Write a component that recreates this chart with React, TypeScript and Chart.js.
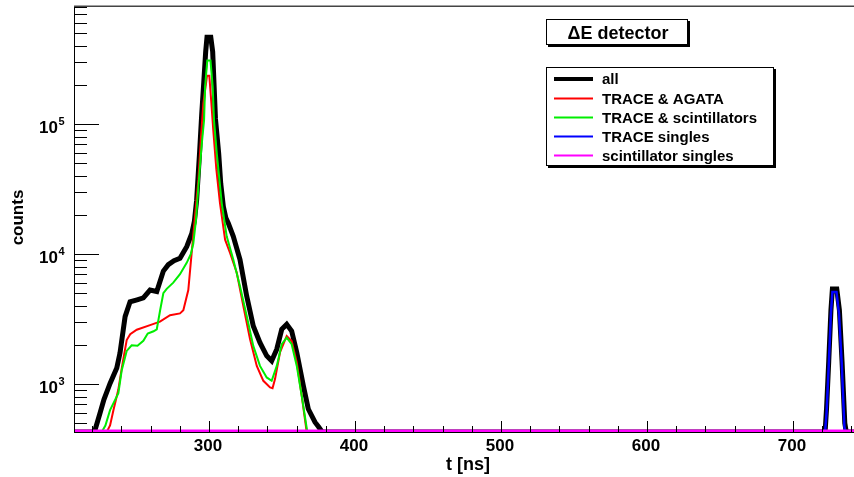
import React, { useEffect, useRef } from "react";
import { Chart, registerables } from "chart.js";

Chart.register(...registerables);

// ---- axis ranges & ticks ----
const X_MIN = 207.5;
const X_MAX = 741.8;
const Y_MIN = 428;
const Y_MAX = 810000;
const X_TICK_LABELS = [300, 400, 500, 600, 700];
const Y_TICK_EXPONENTS = [3, 4, 5];

// ---- series (t in ns, counts; 0 = empty bin) ----
const T_ALL = [207.5, 221.5, 225.3, 228, 232.2, 236.8, 239, 242.5, 245.9, 250.7, 255, 259.6, 264.2, 268.7, 272.1, 276, 280.1, 284.7, 288.2, 290, 291.5, 293.5, 295, 296.4, 297.7, 298.6, 301.2, 302.5, 304.4, 306.6, 308, 309.8, 311.5, 313.2, 316.6, 321.2, 325.8, 330.3, 334.9, 339.5, 342.9, 346.4, 349.8, 353.2, 356.6, 360.1, 364.6, 368, 372.6, 375, 377.5, 722, 723, 724.5, 726, 727, 730, 731.8, 733.6, 735.5, 736.5, 741.8];
const C_ALL = [0, 0, 596, 760, 1012, 1330, 1730, 3300, 4300, 4450, 4600, 5290, 5150, 7400, 8300, 8900, 9300, 11400, 14400, 18000, 26000, 60000, 120000, 210000, 360000, 465000, 465000, 360000, 110000, 59600, 35000, 23200, 19000, 17300, 13700, 9070, 4750, 2800, 2085, 1650, 1510, 1855, 2640, 2880, 2560, 1750, 970, 643, 509, 470, 0, 0, 650, 1500, 3700, 5400, 5400, 3700, 1500, 500, 0, 0];

const T_AGATA = [207.5, 229.9, 232.2, 234.5, 237.8, 240.8, 243.6, 246, 250.5, 259.6, 266.4, 273.3, 280.1, 282.4, 285.8, 289.2, 292.7, 294.5, 296.1, 298.6, 300.2, 301.5, 302.9, 305, 307.5, 311, 314.4, 319, 323.5, 328.1, 332.7, 337.2, 341.8, 343.5, 345.2, 348.6, 353.2, 356.6, 360.1, 363.5, 366.9, 741.8];
const C_AGATA = [0, 0, 480, 630, 900, 1450, 2180, 2420, 2620, 2840, 3020, 3390, 3500, 3700, 5290, 14000, 37200, 80000, 144000, 235000, 235000, 150000, 90000, 45000, 24700, 12900, 10200, 7180, 3990, 2213, 1380, 1060, 944, 930, 1092, 1750, 2344, 2146, 1467, 813, 0, 0];

const T_SCINT = [207.5, 226.5, 229, 232.2, 237.9, 240.2, 243.6, 247, 251, 255, 258, 262, 264.2, 266.5, 268.7, 271, 275.5, 280.1, 284.7, 287.5, 289.2, 291, 292.7, 295, 296.6, 297.3, 298.8, 301, 302.5, 303.4, 305.3, 308.7, 312.1, 316.6, 321.2, 325.8, 330.3, 334.9, 339.5, 342.9, 346.4, 349.8, 353.2, 356.6, 360.1, 363.5, 367.3, 741.8];
const C_SCINT = [0, 0, 480, 630, 850, 1280, 1800, 1990, 1970, 2150, 2450, 2550, 2640, 3700, 5000, 5400, 6030, 7000, 8570, 10000, 12000, 18000, 33100, 70000, 107000, 194000, 309000, 309000, 194000, 107000, 59600, 24700, 13700, 9070, 5660, 3340, 1967, 1380, 1125, 1060, 1380, 2027, 2280, 2027, 1380, 813, 0, 0];

const T_SINGLES = [207.5, 722, 723, 724.5, 726, 727, 729.8, 731.5, 733.4, 735.2, 736, 741.8];
const C_SINGLES = [0, 0, 600, 1400, 3500, 5100, 5100, 3500, 1440, 470, 0, 0];

const T_SCINT_SINGLES = [207.5, 741.8];
const C_SCINT_SINGLES = [0, 0];

const SERIES_LABELS = ["all", "TRACE & AGATA", "TRACE & scintillators", "TRACE singles", "scintillator singles"];
const SERIES_COLORS = ["#000000", "#ff0000", "#00ee00", "#0000ff", "#ff00ff"];
const SERIES_WIDTHS = [5, 2, 2, 2.5, 5];

const TITLE = "ΔE detector";
const X_TITLE = "t [ns]";
const Y_TITLE = "counts";

const FONT = '"Liberation Sans", Arial, Helvetica, sans-serif';

function toPoints(ts: number[], cs: number[]) {
  // empty bins are drawn on the bottom of the log axis
  return ts.map((t, i) => ({ x: t, y: cs[i] > 0 ? cs[i] : Y_MIN }));
}

const decorPlugin = {
  id: "rootDecor",
  afterDatasetsDraw(chart: any) {
    const ctx = chart.ctx as CanvasRenderingContext2D;
    const { left, right, top, bottom } = chart.chartArea;
    const xs = chart.scales.x;
    const ys = chart.scales.y;
    ctx.save();
    // frame
    ctx.strokeStyle = "#000";
    ctx.lineWidth = 1;
    ctx.beginPath();
    ctx.moveTo(left + 0.5, top);
    ctx.lineTo(left + 0.5, bottom + 1);
    ctx.moveTo(left, bottom + 0.5);
    ctx.lineTo(right, bottom + 0.5);
    ctx.stroke();
    ctx.strokeStyle = "#444";
    ctx.lineWidth = 1.5;
    ctx.beginPath();
    ctx.moveTo(left, top + 0.25);
    ctx.lineTo(right, top + 0.25);
    ctx.stroke();

    // x ticks (inside)
    ctx.strokeStyle = "#000";
    ctx.lineWidth = 1;
    ctx.beginPath();
    for (let v = 220; v <= X_MAX; v += 20) {
      if (v < X_MIN) continue;
      const px = Math.round(xs.getPixelForValue(v)) + 0.5;
      const len = v % 100 === 0 ? 11 : 6;
      ctx.moveTo(px, bottom);
      ctx.lineTo(px, bottom - len);
    }
    // y ticks (inside)
    for (let e = 2; e <= 6; e++) {
      for (let m = 1; m <= 9; m++) {
        const v = m * Math.pow(10, e);
        if (v < Y_MIN || v > Y_MAX) continue;
        const py = Math.round(ys.getPixelForValue(v)) + 0.5;
        const len = m === 1 ? 25 : 13;
        ctx.moveTo(left, py);
        ctx.lineTo(left + len, py);
      }
    }
    ctx.stroke();

    // x tick labels
    ctx.fillStyle = "#000";
    ctx.font = `bold 17px ${FONT}`;
    ctx.textAlign = "center";
    ctx.textBaseline = "alphabetic";
    for (const v of X_TICK_LABELS) {
      ctx.fillText(String(v), xs.getPixelForValue(v) - 1, bottom + 19);
    }
    // y tick labels 10^n
    for (const e of Y_TICK_EXPONENTS) {
      const py = ys.getPixelForValue(Math.pow(10, e));
      ctx.font = `bold 17px ${FONT}`;
      ctx.textAlign = "right";
      ctx.fillText("10", left - 16, py + 9);
      ctx.font = `bold 11px ${FONT}`;
      ctx.textAlign = "left";
      ctx.fillText(String(e), left - 15.5, py + 0.5);
    }
    // axis titles
    ctx.font = `bold 18px ${FONT}`;
    ctx.textAlign = "center";
    ctx.fillText(X_TITLE, 468, 470);
    ctx.save();
    ctx.translate(23, 217.5);
    ctx.rotate(-Math.PI / 2);
    ctx.font = `bold 17px ${FONT}`;
    ctx.textBaseline = "alphabetic";
    ctx.fillText(Y_TITLE, 0, 0);
    ctx.restore();

    // title box
    const box = (x0: number, y0: number, x1: number, y1: number) => {
      ctx.fillStyle = "#000";
      ctx.fillRect(x0 + 2, y1, x1 - x0, 2);
      ctx.fillRect(x1, y0 + 2, 2, y1 - y0);
      ctx.fillStyle = "#fff";
      ctx.fillRect(x0, y0, x1 - x0, y1 - y0);
      ctx.strokeStyle = "#000";
      ctx.lineWidth = 1;
      ctx.strokeRect(x0 + 0.5, y0 + 0.5, x1 - x0 - 1, y1 - y0 - 1);
    };
    box(546, 19, 688, 45);
    ctx.fillStyle = "#000";
    ctx.font = `bold 18px ${FONT}`;
    ctx.textAlign = "center";
    ctx.fillText(TITLE, 618, 39);

    // legend
    box(546, 67, 774, 166);
    ctx.font = `bold 15px ${FONT}`;
    ctx.textAlign = "left";
    const baselines = [84, 103.5, 122.5, 141.5, 160.5];
    chart.data.datasets.forEach((ds: any, i: number) => {
      const b = baselines[i];
      ctx.strokeStyle = ds.borderColor;
      ctx.lineWidth = i === 0 ? 4 : 2;
      ctx.beginPath();
      ctx.moveTo(554, b - 5);
      ctx.lineTo(593, b - 5);
      ctx.stroke();
      ctx.fillStyle = "#000";
      ctx.fillText(ds.label, 602, b);
    });
    ctx.restore();
  },
};

export default function App() {
  const canvasRef = useRef<HTMLCanvasElement | null>(null);

  useEffect(() => {
    if (!canvasRef.current) return;
    const series = [
      [T_ALL, C_ALL],
      [T_AGATA, C_AGATA],
      [T_SCINT, C_SCINT],
      [T_SINGLES, C_SINGLES],
      [T_SCINT_SINGLES, C_SCINT_SINGLES],
    ];
    const chart = new Chart(canvasRef.current, {
      type: "line",
      data: {
        datasets: series.map(([ts, cs], i) => ({
          label: SERIES_LABELS[i],
          data: toPoints(ts as number[], cs as number[]),
          borderColor: SERIES_COLORS[i],
          backgroundColor: SERIES_COLORS[i],
          borderWidth: SERIES_WIDTHS[i],
          pointRadius: 0,
          tension: 0,
          fill: false,
          order: series.length - i,
          borderJoinStyle: "miter" as const,
        })),
      },
      options: {
        animation: false,
        responsive: true,
        maintainAspectRatio: false,
        layout: { padding: { left: 74, top: 6, right: 0, bottom: 45 } },
        plugins: { legend: { display: false }, tooltip: { enabled: false }, title: { display: false } },
        scales: {
          x: { type: "linear", min: X_MIN, max: X_MAX, display: false },
          y: { type: "logarithmic", min: Y_MIN, max: Y_MAX, display: false },
        },
      },
      plugins: [decorPlugin],
    });
    return () => chart.destroy();
  }, []);

  return (
    <div style={{ position: "fixed", left: 0, top: 0, width: 854, height: 477, background: "#fff" }}>
      <canvas ref={canvasRef} />
    </div>
  );
}
